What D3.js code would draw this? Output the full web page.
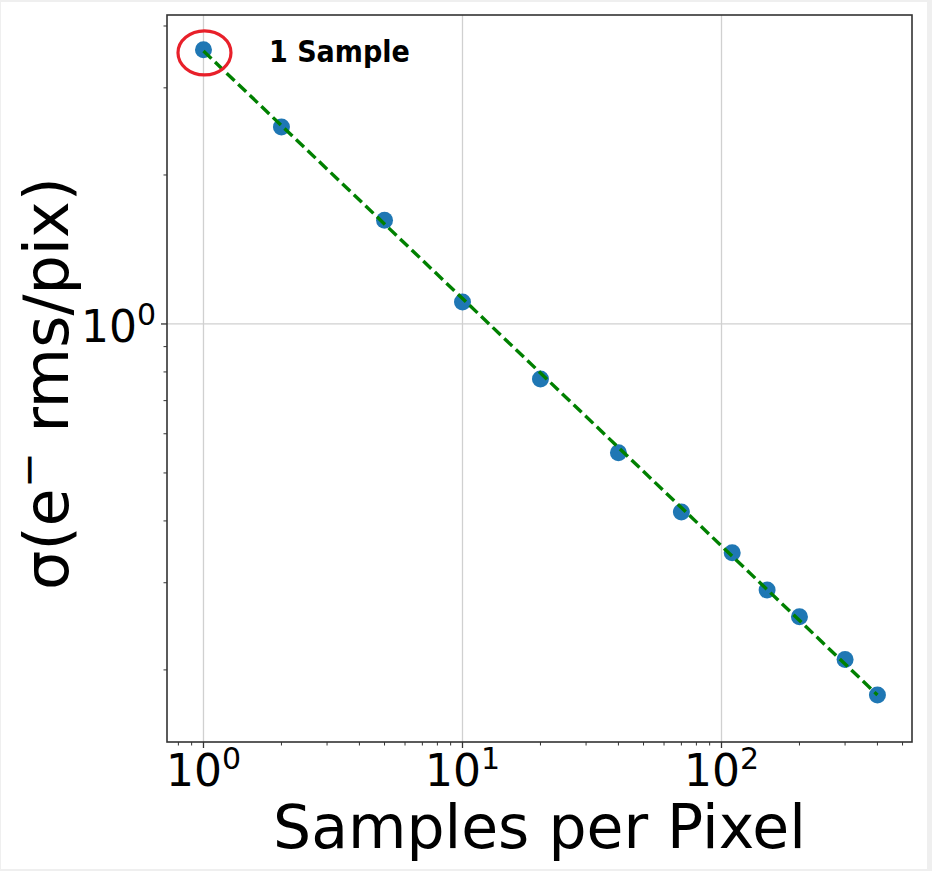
<!DOCTYPE html>
<html>
<head>
<meta charset="utf-8">
<script src="https://cdn.jsdelivr.net/npm/d3@7"></script>
<style>
  html, body { margin: 0; padding: 0; background: #efefef; }
  #fig { position: absolute; left: 1px; top: 2px; width: 926px; height: 867px; background: #fff; }
  svg { position: absolute; left: 0; top: 0; }
  text { font-family: "DejaVu Sans", sans-serif; fill: #000; }
</style>
</head>
<body>
<div id="fig"></div>
<svg id="chart" width="932" height="871"></svg>
<script>
// measured data
const samples = [1, 2, 5, 10, 20, 40, 70, 110, 150, 200, 300, 400];
const sigma = [3.58, 2.50, 1.62, 1.108, 0.774, 0.549, 0.417, 0.345, 0.290, 0.256, 0.210, 0.178];
const fitSamples = [1, 400];
const fitSigma = [3.56, 0.178];
const xMajor = [1, 10, 100];
const yMajor = [1];
const xMinor = [0.8, 0.9, 2, 3, 4, 5, 6, 7, 8, 9, 20, 30, 40, 50, 60, 70, 80, 90, 200, 300, 400, 500];
const yMinor = [0.2, 0.3, 0.4, 0.5, 0.6, 0.7, 0.8, 0.9, 2, 3, 4];
const xTickExp = ["0", "1", "2"];
const yTickExp = ["0"];

const plotL = 167, plotR = 912, plotT = 15, plotB = 742;

const x = d3.scaleLog().domain([0.723, 543.9]).range([plotL, plotR]);
const y = d3.scaleLog().domain([0.143, 4.21]).range([plotB, plotT]);

const svg = d3.select("#chart");

// grid
svg.selectAll(".gx").data(xMajor).join("line")
    .attr("x1", d => x(d)).attr("x2", d => x(d))
    .attr("y1", plotT).attr("y2", plotB)
    .attr("stroke", "#d0d0d0").attr("stroke-width", 1.3);
svg.selectAll(".gy").data(yMajor).join("line")
    .attr("y1", d => y(d)).attr("y2", d => y(d))
    .attr("x1", plotL).attr("x2", plotR)
    .attr("stroke", "#d0d0d0").attr("stroke-width", 1.3);

// points
svg.selectAll(".pt").data(samples).join("circle")
    .attr("cx", d => x(d))
    .attr("cy", (d, i) => y(sigma[i]))
    .attr("r", 8.5)
    .attr("fill", "#1f77b4");

// fit line, on top of the points
const line = d3.line().x(d => x(d[0])).y(d => y(d[1]));
svg.append("path")
    .datum(fitSamples.map((s, i) => [s, fitSigma[i]]))
    .attr("d", line)
    .attr("fill", "none")
    .attr("stroke", "#008000")
    .attr("stroke-width", 3.4)
    .attr("stroke-dasharray", "11,5");

// annotation
svg.append("ellipse")
    .attr("cx", x(samples[0]) + 1)
    .attr("cy", y(sigma[0]) + 3)
    .attr("rx", 26.5).attr("ry", 22)
    .attr("fill", "none")
    .attr("stroke", "#e8202a")
    .attr("stroke-width", 3.2);
svg.append("text")
    .attr("x", 269).attr("y", 62)
    .style("font-family", "'DejaVu Sans Condensed', 'DejaVu Sans', sans-serif")
    .style("font-weight", "bold")
    .style("font-size", "30px")
    .text("1 Sample");

// spines
svg.append("rect")
    .attr("x", plotL).attr("y", plotT)
    .attr("width", plotR - plotL).attr("height", plotB - plotT)
    .attr("fill", "none").attr("stroke", "#333").attr("stroke-width", 1.6);

// ticks
svg.selectAll(".xt").data(xMajor).join("line")
    .attr("x1", d => x(d)).attr("x2", d => x(d))
    .attr("y1", plotB).attr("y2", plotB + 6)
    .attr("stroke", "#333").attr("stroke-width", 1.3);
svg.selectAll(".xm").data(xMinor).join("line")
    .attr("x1", d => x(d)).attr("x2", d => x(d))
    .attr("y1", plotB).attr("y2", plotB + 3.5)
    .attr("stroke", "#333").attr("stroke-width", 1);
svg.selectAll(".yt").data(yMajor).join("line")
    .attr("y1", d => y(d)).attr("y2", d => y(d))
    .attr("x1", plotL - 6).attr("x2", plotL)
    .attr("stroke", "#333").attr("stroke-width", 1.3);
svg.selectAll(".ym").data(yMinor).join("line")
    .attr("y1", d => y(d)).attr("y2", d => y(d))
    .attr("x1", plotL - 3.5).attr("x2", plotL)
    .attr("stroke", "#333").attr("stroke-width", 1);

// tick labels
const xl = svg.selectAll(".xl").data(xMajor).join("text")
    .attr("x", d => x(d)).attr("y", 786)
    .attr("text-anchor", "middle")
    .style("font-size", "44px");
xl.append("tspan").text("10");
xl.append("tspan").attr("dy", -17).style("font-size", "30px").text((d, i) => xTickExp[i]);

const yl = svg.selectAll(".yl").data(yMajor).join("text")
    .attr("x", 156).attr("y", d => y(d) + 18)
    .attr("text-anchor", "end")
    .style("font-size", "44px");
yl.append("tspan").text("10");
yl.append("tspan").attr("dy", -17).style("font-size", "30px").text((d, i) => yTickExp[i]);

// axis labels
svg.append("text")
    .attr("x", (plotL + plotR) / 2).attr("y", 848)
    .attr("text-anchor", "middle")
    .style("font-size", "60px")
    .text("Samples per Pixel");

const ylab = svg.append("text")
    .attr("transform", `translate(68,${(plotT + plotB) / 2 + 5}) rotate(-90)`)
    .attr("text-anchor", "middle")
    .style("font-size", "62px");
ylab.append("tspan").text("σ(e");
ylab.append("tspan").attr("dy", -25).style("font-size", "43px").text("−");
ylab.append("tspan").attr("dy", 25).text(" rms/pix)");
</script>
</body>
</html>
